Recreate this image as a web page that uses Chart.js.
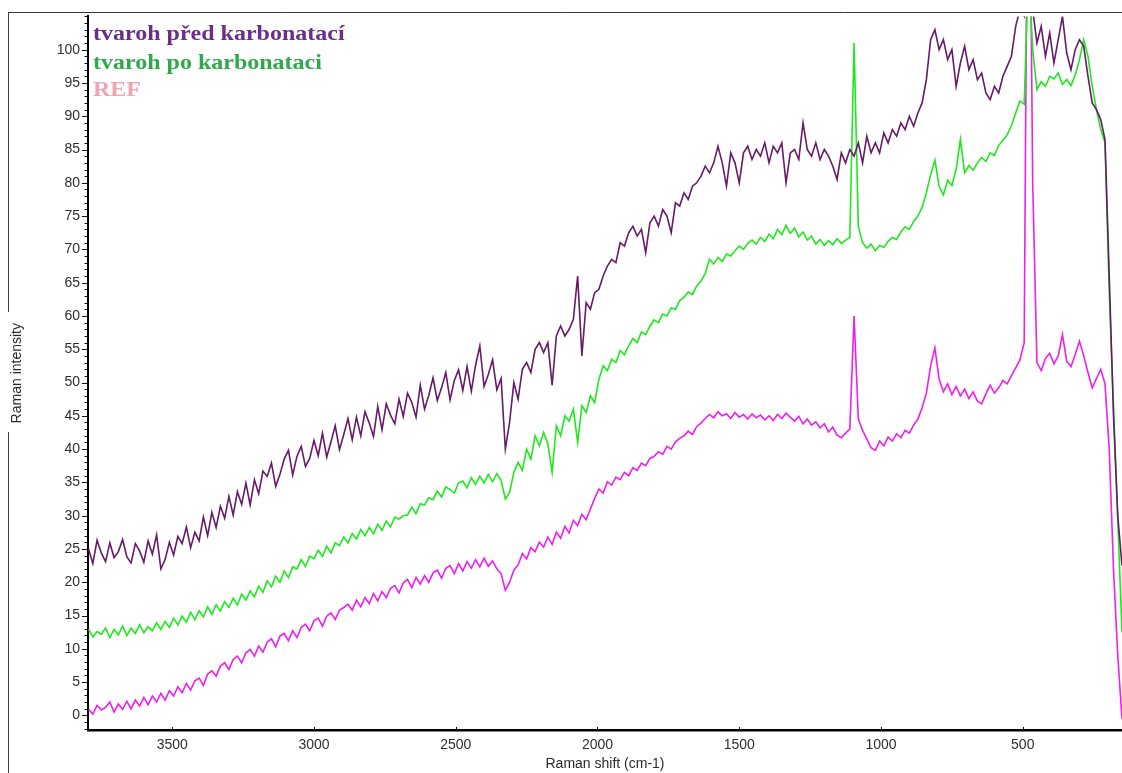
<!DOCTYPE html>
<html>
<head>
<meta charset="utf-8">
<title>Raman spectra – tvaroh</title>
<script src="https://cdn.jsdelivr.net/npm/chart.js@4.4.1/dist/chart.umd.min.js"></script>
<style>
  html, body { margin: 0; padding: 0; background: #ffffff; overflow: hidden; }
  #wrap { position: relative; width: 1122px; height: 773px; }
</style>
</head>
<body>
<div id="wrap"><canvas id="spectrum" width="1122" height="773"></canvas></div>
<script>
// Raman shift grid (cm-1), one entry per measured point
const ramanShift = [
  3795,3780,3765,3750,3735,3720,3705,3690,3675,3660,3645,3630,3615,3600,3585,3570,3555,3540,3525,3510,
  3495,3480,3465,3450,3435,3420,3405,3390,3375,3360,3345,3330,3315,3300,3285,3270,3255,3240,3225,3210,
  3195,3180,3165,3150,3135,3120,3105,3090,3075,3060,3045,3030,3015,3000,2985,2970,2955,2940,2925,2910,
  2895,2880,2865,2850,2835,2820,2805,2790,2775,2760,2745,2730,2715,2700,2685,2670,2655,2640,2625,2610,
  2595,2580,2565,2550,2535,2520,2505,2490,2475,2460,2445,2430,2415,2400,2385,2370,2355,2340,2325,2310,
  2295,2280,2265,2250,2235,2220,2205,2190,2175,2160,2145,2130,2115,2100,2085,2070,2055,2040,2025,2010,
  1995,1980,1965,1950,1935,1920,1905,1890,1875,1860,1845,1830,1815,1800,1785,1770,1755,1740,1725,1710,
  1695,1680,1665,1650,1635,1620,1605,1590,1575,1560,1545,1530,1515,1500,1485,1470,1455,1440,1425,1410,
  1395,1380,1365,1350,1335,1320,1305,1290,1275,1260,1245,1230,1215,1200,1185,1170,1155,1140,1125,1110,
  1095,1080,1065,1050,1035,1020,1005,990,975,960,945,930,915,900,885,870,855,840,825,810,
  795,780,765,750,735,720,705,690,675,660,645,630,615,600,585,570,555,540,525,510,
  495,480,465,450,435,420,405,390,375,360,345,330,315,300,285,270,255,240,225,210,
  195,180,165,150
];

// tvaroh před karbonatací
const tvarohPred = [
  25.0,22.8,26.3,24.4,23.1,25.9,23.7,24.6,26.4,23.8, 22.9,25.8,24.7,23.0,26.2,24.2,27.1,22.0,23.4,26.0,
  24.1,26.9,25.8,28.3,25.2,27.5,26.2,29.8,27.0,30.5, 28.2,31.4,29.6,32.9,30.1,33.6,31.7,34.9,31.6,35.4,
  33.3,36.7,35.9,37.9,34.4,36.2,38.5,39.8,36.1,38.9, 40.4,37.4,38.6,41.3,39.0,42.4,38.8,41.1,43.5,39.9,
  42.2,44.6,41.4,44.8,42.0,45.6,43.9,41.9,46.4,42.9, 46.8,45.1,43.8,47.5,44.9,48.4,47.0,44.8,49.6,46.0,
  48.1,50.7,47.3,49.2,51.5,47.4,50.3,51.9,48.8,52.4, 48.7,52.6,55.5,49.4,51.2,53.4,48.9,50.6,40.0,44.0,
  50.0,47.5,52.0,53.0,51.5,55.0,56.0,54.5,56.0,49.6, 57.0,58.5,57.0,58.0,59.5,66.0,54.0,62.0,61.0,63.5,
  64.0,66.0,67.5,68.5,68.0,71.0,70.5,72.5,73.5,72.0, 73.0,69.5,74.0,75.0,73.5,76.0,75.0,72.5,77.0,76.5,
  78.5,77.5,79.5,80.0,81.0,82.5,81.5,83.0,85.5,83.0, 79.5,84.5,83.0,80.0,84.5,85.5,83.5,85.0,84.0,86.0,
  83.0,85.5,84.5,86.0,80.0,84.5,85.0,83.5,89.0,85.0, 84.0,86.0,83.5,85.0,84.0,82.5,80.5,84.5,83.0,85.0,
  84.0,86.0,83.0,87.0,84.5,86.0,84.5,87.5,86.0,88.0, 87.0,89.0,88.0,90.0,88.5,90.5,92.0,95.5,101.5,103.0,
  100.0,101.5,98.5,100.0,94.5,98.0,100.5,97.0,98.5,95.5, 96.5,93.5,92.5,94.5,93.5,96.0,97.5,99.0,103.5,106.0,
  105.0,110.0,106.0,101.0,103.5,99.0,102.5,98.0,101.5,105.0, 99.5,97.0,100.0,101.5,100.5,96.0,92.0,91.0,89.5,86.5,
  66.0,45.0,30.0,22.5
];

// tvaroh po karbonataci
const tvarohPo = [
  12.9,11.8,12.6,12.2,13.1,11.7,12.9,12.1,13.4,12.0, 13.1,12.3,13.6,12.4,13.3,12.7,13.9,12.9,14.1,13.2,
  14.6,13.6,14.9,14.0,15.5,14.4,15.7,14.8,16.3,15.2, 16.6,15.7,17.1,16.2,17.6,16.6,18.2,17.3,18.7,17.8,
  19.4,18.5,20.2,19.3,20.9,20.0,21.7,20.7,22.3,22.0, 23.4,22.4,23.9,23.5,24.8,23.9,25.4,24.4,25.9,25.5,
  26.8,25.9,27.3,26.5,27.9,27.0,28.2,27.3,28.7,27.8, 29.2,28.3,29.8,29.5,30.0,30.1,31.3,30.3,31.8,31.6,
  32.7,32.4,33.7,32.8,34.3,33.9,33.4,34.9,35.2,34.2, 35.7,34.7,35.9,34.9,36.2,35.1,36.3,35.3,32.5,33.5,
  36.5,38.0,36.8,40.0,38.5,42.0,40.5,42.5,40.8,36.5, 43.5,42.0,45.0,44.2,46.0,41.0,46.5,45.5,48.0,47.0,
  50.5,52.5,51.8,53.5,53.0,54.8,54.2,55.5,56.6,56.0, 57.6,57.2,58.5,59.4,59.0,60.3,60.0,61.2,61.0,62.3,
  62.8,63.6,63.2,64.5,65.2,66.4,68.5,67.8,68.8,68.2, 69.3,69.0,69.8,70.5,70.0,70.9,71.4,70.8,71.8,71.2,
  72.3,71.6,73.0,72.2,73.6,72.4,73.2,71.9,72.6,71.4, 72.0,70.8,71.5,70.6,71.3,70.7,71.6,70.9,71.4,71.8,
  101.0,73.5,71.0,70.2,70.8,69.8,70.6,70.3,71.2,71.8, 71.5,72.6,73.4,73.0,74.2,75.0,76.3,78.5,81.2,83.4,
  79.5,78.2,80.4,79.6,82.0,86.5,81.5,82.6,81.9,83.0, 83.8,83.2,84.5,84.1,85.6,86.4,87.2,88.6,90.5,92.3,
  91.8,112.0,100.0,94.0,95.2,94.5,96.0,95.6,96.5,94.8, 95.5,94.6,96.2,98.5,101.5,99.0,94.5,91.0,88.0,86.0,
  63.5,46.5,29.5,12.5
];

// REF
const refSpectrum = [
  0.9,0.2,1.5,0.8,1.2,2.0,0.5,1.7,0.9,2.1, 1.0,2.3,1.4,2.7,1.6,2.9,2.0,3.3,2.3,3.7,
  2.9,4.3,3.4,4.8,3.8,5.2,5.6,4.5,6.2,6.7, 5.9,7.4,7.9,6.9,8.4,8.9,7.9,9.4,9.9,8.9,
  10.4,9.5,11.0,11.5,10.3,11.9,12.3,11.2,12.7,11.7, 13.2,13.7,12.7,14.2,14.6,13.4,14.9,15.4,14.4,15.8,
  16.2,16.7,15.8,17.3,16.3,17.7,16.8,18.3,17.2,18.6, 17.7,19.1,19.5,18.4,19.9,20.4,19.2,20.7,19.7,21.0,
  20.0,21.4,21.8,20.6,22.1,22.5,21.3,22.8,21.7,23.1, 22.1,23.4,22.3,23.6,22.4,23.2,22.0,21.3,18.8,20.0,
  21.8,22.6,24.3,23.5,25.2,24.6,26.0,25.3,26.8,25.7, 27.5,26.6,28.4,27.4,29.3,28.5,30.2,29.4,31.0,32.6,
  34.0,33.4,35.1,34.6,35.8,35.4,36.5,36.0,37.2,36.8, 37.9,37.5,38.6,38.9,39.6,39.2,40.4,40.0,41.1,41.6,
  42.0,42.7,42.2,43.4,43.9,44.6,45.2,44.7,45.6,45.0, 45.3,44.6,45.5,44.8,45.2,44.5,45.3,44.7,45.1,44.4,
  45.0,44.3,45.2,44.6,45.4,44.8,44.2,44.9,43.8,44.5, 43.6,44.1,43.2,43.8,42.6,43.3,42.1,41.7,42.4,43.0,
  60.0,44.5,42.8,41.5,40.2,39.8,41.2,40.5,41.8,41.2, 42.3,41.7,42.8,42.4,43.6,44.5,46.2,48.4,52.5,55.2,
  50.5,48.6,49.8,48.2,49.4,48.0,49.0,47.6,48.6,47.2, 46.8,48.3,49.6,48.4,49.2,50.3,49.8,51.0,52.2,53.4,
  56.0,150.0,80.0,53.0,51.8,53.6,54.4,52.8,54.0,57.2, 53.2,52.4,54.2,56.2,54.0,51.5,49.2,50.6,52.0,49.8,
  40.0,22.0,9.0,-0.5
];

const seriesLabels = ['tvaroh před karbonatací', 'tvaroh po karbonataci', 'REF'];
const lineColors = ['#661a68', '#1ee81e', '#ee1eee'];
const legendColors = ['#6a2e8a', '#2eaa4c', '#f2a3b3'];
const yTickValues = [0, 5, 10, 15, 20, 25, 30, 35, 40, 45, 50, 55, 60, 65, 70, 75, 80, 85, 90, 95, 100];
const xTickValues = [3500, 3000, 2500, 2000, 1500, 1000, 500];

const toPoints = values => ramanShift.map((shift, i) => ({ x: shift, y: values[i] }));

// thin frame around the figure, broken where the y title sits
const framePlugin = {
  id: 'frame',
  beforeDraw(chart) {
    const ctx = chart.ctx;
    ctx.save();
    ctx.strokeStyle = '#3c3c3c';
    ctx.lineWidth = 1;
    ctx.beginPath();
    ctx.moveTo(8.5, 12.5); ctx.lineTo(1122, 12.5);
    ctx.moveTo(8.5, 12); ctx.lineTo(8.5, 312);
    ctx.moveTo(8.5, 432); ctx.lineTo(8.5, 773);
    ctx.stroke();
    ctx.restore();
  }
};

// major and minor tick marks on both axes
const tickMarksPlugin = {
  id: 'tickMarks',
  afterDraw(chart) {
    const { ctx, chartArea } = chart;
    const x = chart.scales.x, y = chart.scales.y;
    ctx.save();
    ctx.strokeStyle = '#111111';
    ctx.lineWidth = 1;
    ctx.beginPath();
    for (let v = Math.ceil(y.min); v <= y.max; v += 1) {
      const py = Math.round(y.getPixelForValue(v)) + 0.5;
      const len = yTickValues.includes(v) ? 6 : 3.5;
      ctx.moveTo(chartArea.left - len, py);
      ctx.lineTo(chartArea.left, py);
    }
    xTickValues.forEach(v => {
      const px = Math.round(x.getPixelForValue(v)) + 0.5;
      ctx.moveTo(px, chartArea.bottom);
      ctx.lineTo(px, chartArea.bottom - 3);
    });
    ctx.stroke();
    ctx.restore();
  }
};

// series names written in the top-left corner of the plot
const legendTextPlugin = {
  id: 'legendText',
  afterDatasetsDraw(chart) {
    const ctx = chart.ctx;
    const baselines = [40, 69, 96];
    ctx.save();
    ctx.font = 'bold 20px "Liberation Serif", "Times New Roman", serif';
    ctx.textBaseline = 'alphabetic';
    ctx.textAlign = 'left';
    seriesLabels.forEach((label, i) => {
      ctx.save();
      ctx.translate(93, baselines[i]);
      ctx.scale(1.2, 1);
      ctx.fillStyle = legendColors[i];
      ctx.fillText(label, 0, 0);
      ctx.restore();
    });
    ctx.restore();
  }
};

const tickFont = { family: '"Liberation Sans", Arial, sans-serif', size: 14 };

new Chart(document.getElementById('spectrum'), {
  type: 'line',
  data: {
    datasets: [tvarohPred, tvarohPo, refSpectrum].map((values, i) => ({
      label: seriesLabels[i],
      data: toPoints(values),
      borderColor: lineColors[i],
      borderWidth: 1.6,
      pointRadius: 0,
      tension: 0,
      fill: false
    }))
  },
  options: {
    responsive: false,
    devicePixelRatio: 1,
    animation: false,
    events: [],
    layout: { padding: { top: 12, right: 0, bottom: 0, left: 0 } },
    plugins: { legend: { display: false }, tooltip: { enabled: false } },
    scales: {
      x: {
        type: 'linear',
        reverse: true,
        min: 150,
        max: 3797,
        afterBuildTicks: scale => { scale.ticks = xTickValues.map(v => ({ value: v })); },
        afterFit: scale => { scale.height = 43; },
        grid: { display: false, drawTicks: false },
        border: { display: true, color: '#000000', width: 2.5 },
        ticks: {
          autoSkip: false,
          maxRotation: 0,
          padding: 7,
          color: '#2e2e2e',
          font: tickFont,
          callback: value => String(value)
        },
        title: {
          display: true,
          text: 'Raman shift (cm-1)',
          color: '#2a2a2a',
          font: tickFont,
          padding: { top: 0, bottom: 0 }
        }
      },
      y: {
        type: 'linear',
        min: -2.2,
        max: 105,
        afterBuildTicks: scale => { scale.ticks = yTickValues.map(v => ({ value: v })); },
        afterFit: scale => { scale.width = 88; },
        grid: { display: false, drawTicks: false },
        border: { display: true, color: '#000000', width: 2 },
        ticks: {
          autoSkip: false,
          padding: 8,
          color: '#2e2e2e',
          font: tickFont,
          callback: value => String(value)
        },
        title: {
          display: true,
          text: 'Raman intensity',
          color: '#2a2a2a',
          font: tickFont,
          padding: { top: 9, bottom: 0 }
        }
      }
    }
  },
  plugins: [framePlugin, tickMarksPlugin, legendTextPlugin]
});
</script>
</body>
</html>
